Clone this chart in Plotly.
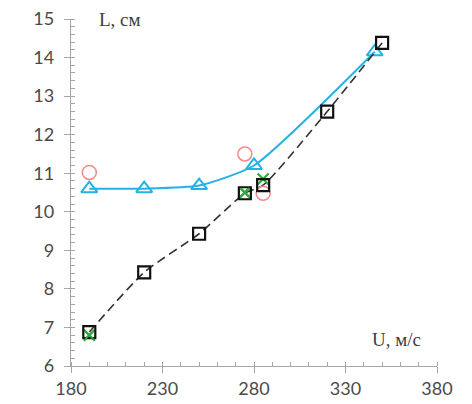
import plotly.graph_objects as go

# Data
tri_x = [190, 220, 250, 280, 346]
tri_y = [10.6, 10.6, 10.68, 11.2, 14.15]

sq_x = [190, 220, 250, 275, 285, 320, 350]
sq_y = [6.88, 8.43, 9.43, 10.48, 10.69, 12.6, 14.38]

circ_x = [190, 275, 285]
circ_y = [11.02, 11.5, 10.48]

grn_x = [190, 275, 285]
grn_y = [6.8, 10.5, 10.85]

x_ticks = [180, 230, 280, 330, 380]
y_ticks = [6, 7, 8, 9, 10, 11, 12, 13, 14, 15]

BLUE = "#22b2e8"
fig = go.Figure()

fig.add_trace(go.Scatter(
    x=tri_x, y=tri_y, mode="lines+markers",
    line=dict(color=BLUE, width=2, shape="spline", smoothing=0.55),
    marker=dict(symbol="triangle-up-open", size=14, color=BLUE, line=dict(width=2, color=BLUE)),
    showlegend=False))

fig.add_trace(go.Scatter(
    x=sq_x, y=sq_y, mode="lines",
    line=dict(color="#333333", width=1.6, dash="9px,5px", shape="spline", smoothing=0.6),
    showlegend=False))

fig.add_trace(go.Scatter(
    x=circ_x, y=circ_y, mode="markers",
    marker=dict(symbol="circle-open", size=14, color="#f28a8a", line=dict(width=1.5, color="#f28a8a")),
    showlegend=False))

fig.add_trace(go.Scatter(
    x=grn_x, y=grn_y, mode="markers",
    marker=dict(symbol="x-thin-open", size=11, color="#2eaa3c", line=dict(width=2.2, color="#2eaa3c")),
    showlegend=False))

fig.add_trace(go.Scatter(
    x=sq_x, y=sq_y, mode="markers",
    marker=dict(symbol="square-open", size=12, color="#111111", line=dict(width=2.2, color="#111111")),
    showlegend=False))

fig.add_trace(go.Scatter(
    x=grn_x[:2], y=grn_y[:2], mode="markers",
    marker=dict(symbol="x-thin-open", size=9, color="#2eaa3c", line=dict(width=2, color="#2eaa3c")),
    showlegend=False))

axis_common = dict(
    showgrid=False, zeroline=False, showline=True, linecolor="#a6a6a6", linewidth=1.3,
    ticks="outside", ticklen=6, tickcolor="#a6a6a6", tickwidth=1,
    ticklabeloverflow="allow", automargin=False,
    tickfont=dict(family="Lato, Open Sans, sans-serif", size=18, color="#4a4a4a"),
)

fig.update_layout(
    width=472, height=404,
    margin=dict(l=63, r=43, t=11, b=46, autoexpand=False),
    paper_bgcolor="white", plot_bgcolor="white",
    xaxis=dict(range=[180, 380], tickvals=x_ticks, ticktext=[str(v) for v in x_ticks],
               minor=dict(dtick=10, ticks="inside", ticklen=4, tickcolor="#a6a6a6"),
               **axis_common),
    yaxis=dict(range=[6, 15], tickvals=y_ticks, ticktext=[str(v) for v in y_ticks],
               ticklabelstandoff=6,
               minor=dict(dtick=0.2, ticks="inside", ticklen=4, tickcolor="#a6a6a6"),
               **axis_common),
    annotations=[
        dict(text="L, см", xref="paper", yref="paper", x=0.135, y=1.0,
             xanchor="center", yanchor="middle",
             showarrow=False, font=dict(family="Liberation Serif, serif", size=19, color="#404040")),
        dict(text="U, м/с", xref="paper", yref="paper", x=0.89, y=0.075,
             xanchor="center", yanchor="middle",
             showarrow=False, font=dict(family="Liberation Serif, serif", size=19, color="#404040")),
    ],
)

fig.write_html("out.html")
